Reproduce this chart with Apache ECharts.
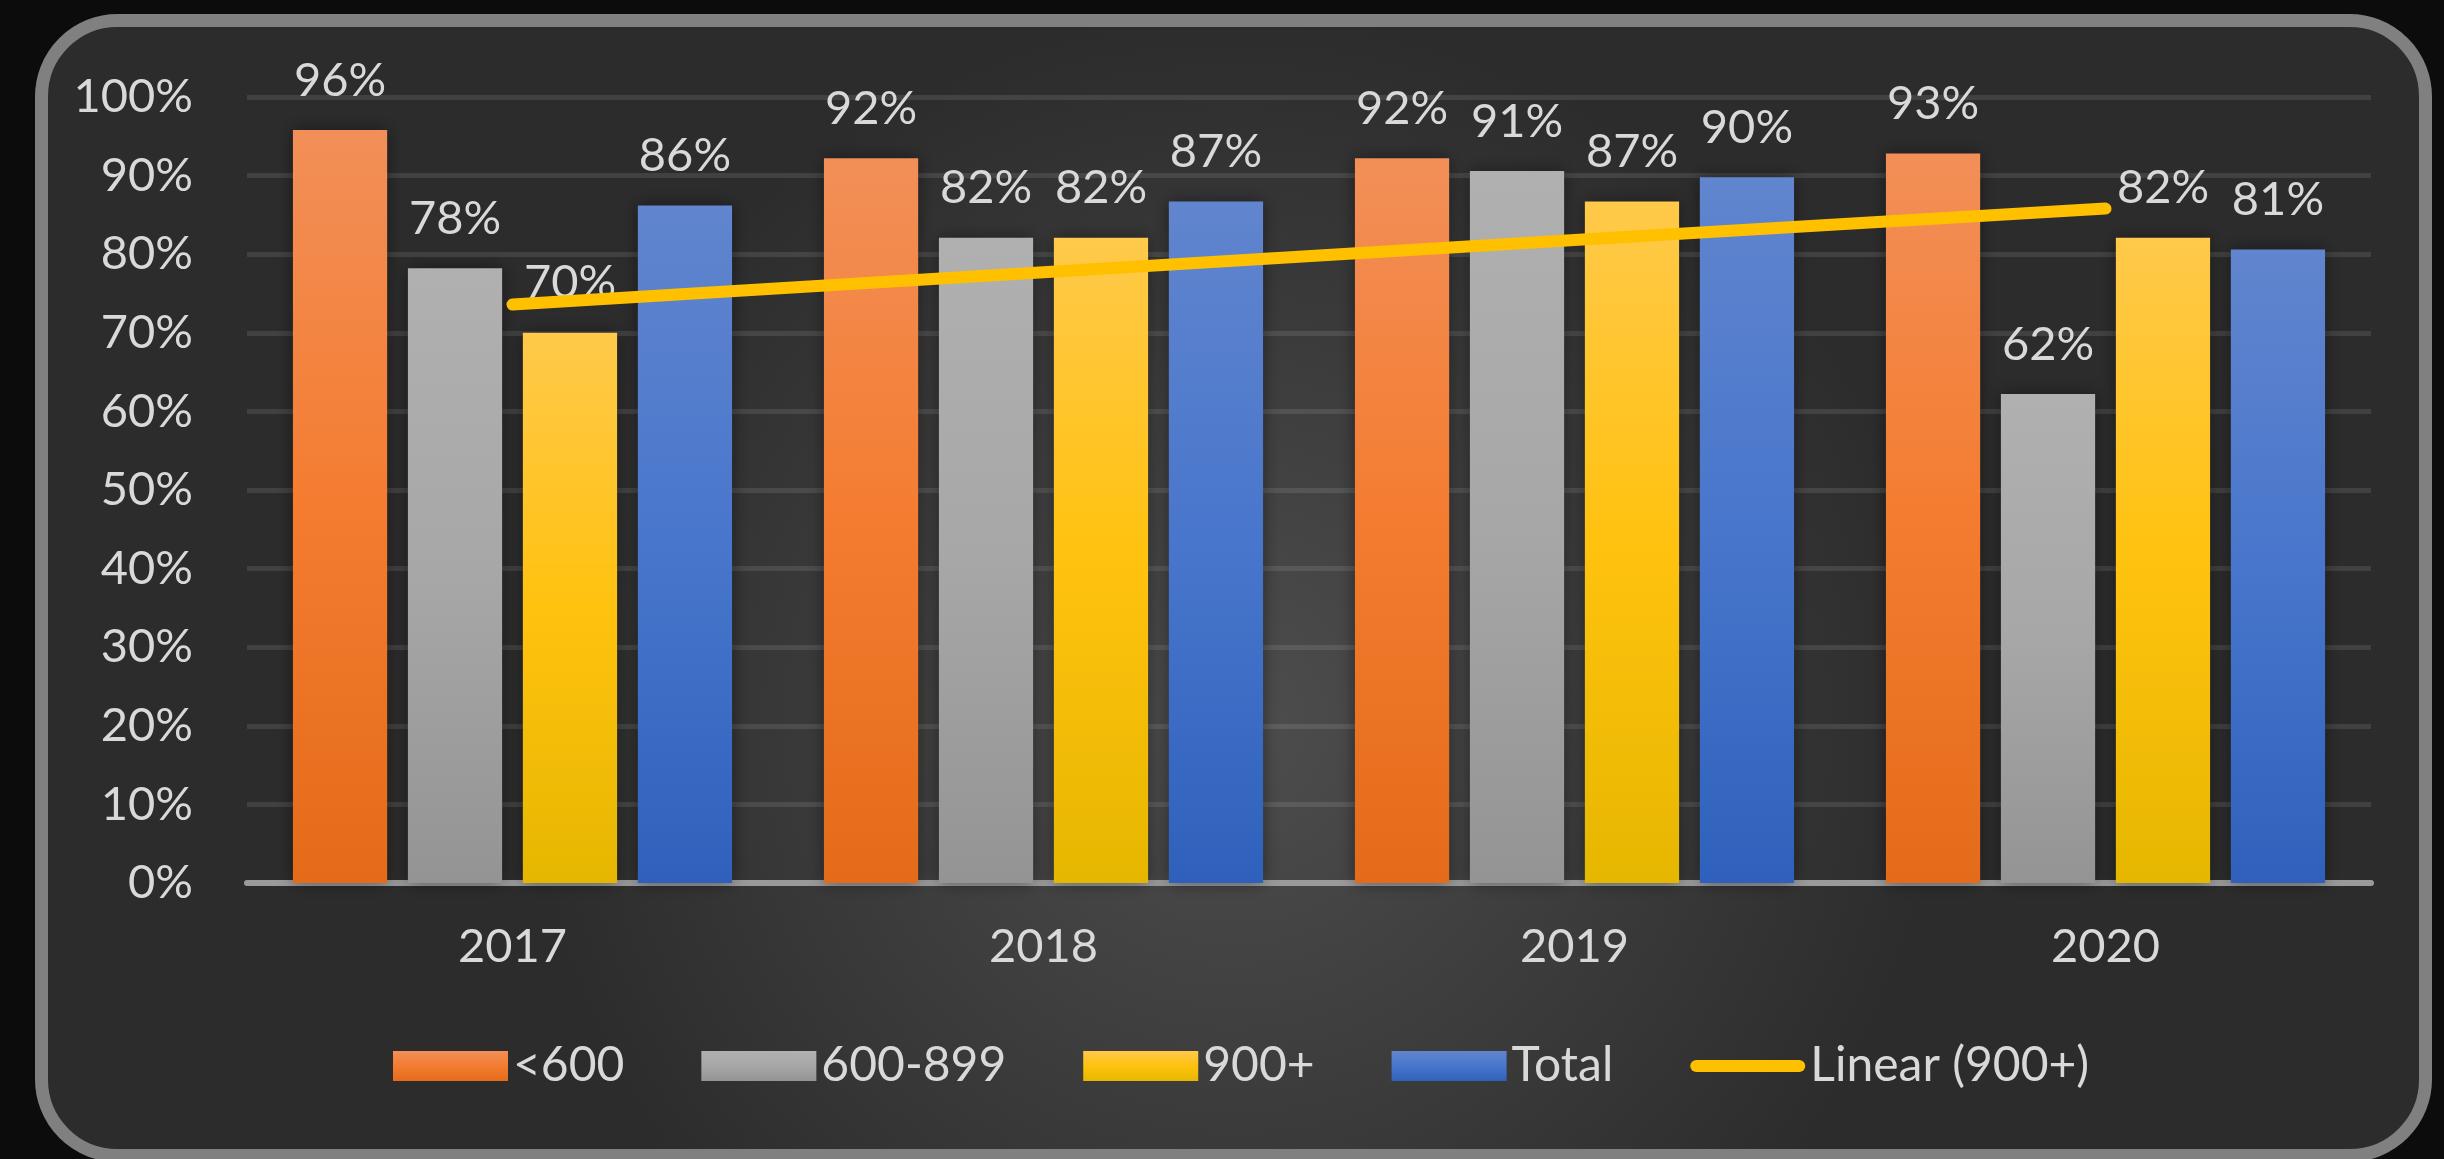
<!DOCTYPE html>
<html>
<head>
<meta charset="utf-8">
<script src="https://cdn.jsdelivr.net/npm/echarts@6/dist/echarts.min.js"></script>
<style>
  html, body { margin: 0; padding: 0; background: #0c0c0c; }
  #chart { width: 2444px; height: 1159px; }
</style>
</head>
<body>
<div id="chart"></div>
<script>
const years = ['2017', '2018', '2019', '2020']
const under600 = [95.8, 92.2, 92.2, 92.8]
const mid600to899 = [78.2, 82.1, 90.6, 62.2]
const over900 = [70.0, 82.1, 86.7, 82.1]
const total = [86.2, 86.7, 89.8, 80.6]
// trend line for 900+ at each year
const trend900 = [73.6, 77.7, 81.8, 85.8]
const yTicks = [0, 10, 20, 30, 40, 50, 60, 70, 80, 90, 100]

const font = 'Lato'
const textColor = '#d9d9d9'

const grad = (a, b, c) => new echarts.graphic.LinearGradient(0, 0, 0, 1, [
  { offset: 0, color: a },
  { offset: 0.5, color: b },
  { offset: 1, color: c },
])

const barLabel = {
  show: true,
  position: 'top',
  distance: 26,
  color: textColor,
  fontFamily: font,
  fontSize: 47,
  formatter: (p) => Math.round(p.value) + '%',
}

const barSeries = (name, data, color) => ({
  name,
  type: 'bar',
  data,
  barGap: '22%',
  barCategoryGap: '17.3%',
  itemStyle: {
    color,
    shadowBlur: 16,
    shadowColor: 'rgba(0,0,0,0.45)',
  },
  label: barLabel,
  z: 2,
})

// thick rounded bar for the trend line's legend entry
const lineIcon = 'path://M6,0 L109,0 A6,6 0 0 1 109,12 L6,12 A6,6 0 0 1 6,0 Z'

const chart = echarts.init(document.getElementById('chart'))
chart.setOption({
  backgroundColor: 'transparent',
  animation: false,
  graphic: [
    {
      type: 'rect',
      z: -10,
      silent: true,
      shape: { x: 41.5, y: 20.5, width: 2384, height: 1135, r: 76 },
      style: {
        fill: new echarts.graphic.RadialGradient(0.5, 0.62, 0.62, [
          { offset: 0, color: '#4e4e4e' },
          { offset: 1, color: '#2c2c2c' },
        ]),
        stroke: '#808080',
        lineWidth: 13,
      },
    },
  ],
  grid: { left: 247, right: 73, top: 97, bottom: 276 },
  legend: {
    left: 393,
    top: 1042,
    padding: 0,
    itemWidth: 115,
    itemHeight: 30,
    itemGap: 77,
    icon: 'rect',
    textStyle: { color: textColor, fontFamily: font, fontSize: 48 },
    data: [
      '<600', '600-899', '900+', 'Total',
      { name: 'Linear (900+)', icon: lineIcon },
    ],
  },
  xAxis: {
    type: 'category',
    data: years,
    axisLine: { lineStyle: { color: '#9a9a9a', width: 6 } },
    axisTick: { show: false },
    axisLabel: { color: textColor, fontFamily: font, fontSize: 47, margin: 40 },
  },
  yAxis: {
    type: 'value',
    min: yTicks[0],
    max: yTicks[yTicks.length - 1],
    interval: 10,
    axisLine: { show: false },
    axisTick: { show: false },
    axisLabel: {
      color: textColor,
      fontFamily: font,
      fontSize: 47,
      margin: 54,
      formatter: '{value}%',
    },
    splitLine: { lineStyle: { color: 'rgba(255,255,255,0.1)', width: 5 } },
  },
  series: [
    barSeries('<600', under600, grad('#F28F58', '#F47C30', '#E36B19')),
    barSeries('600-899', mid600to899, grad('#B0B0B0', '#A7A7A7', '#949494')),
    barSeries('900+', over900, grad('#FFC94A', '#FFC20F', '#E6B700')),
    barSeries('Total', total, grad('#6185CE', '#4876CC', '#2F61BC')),
    {
      name: 'Linear (900+)',
      type: 'line',
      data: trend900,
      symbol: 'none',
      z: 5,
      lineStyle: { color: '#FFC000', width: 12, cap: 'round' },
      itemStyle: { color: '#FFC000' },
    },
  ],
})
</script>
</body>
</html>
